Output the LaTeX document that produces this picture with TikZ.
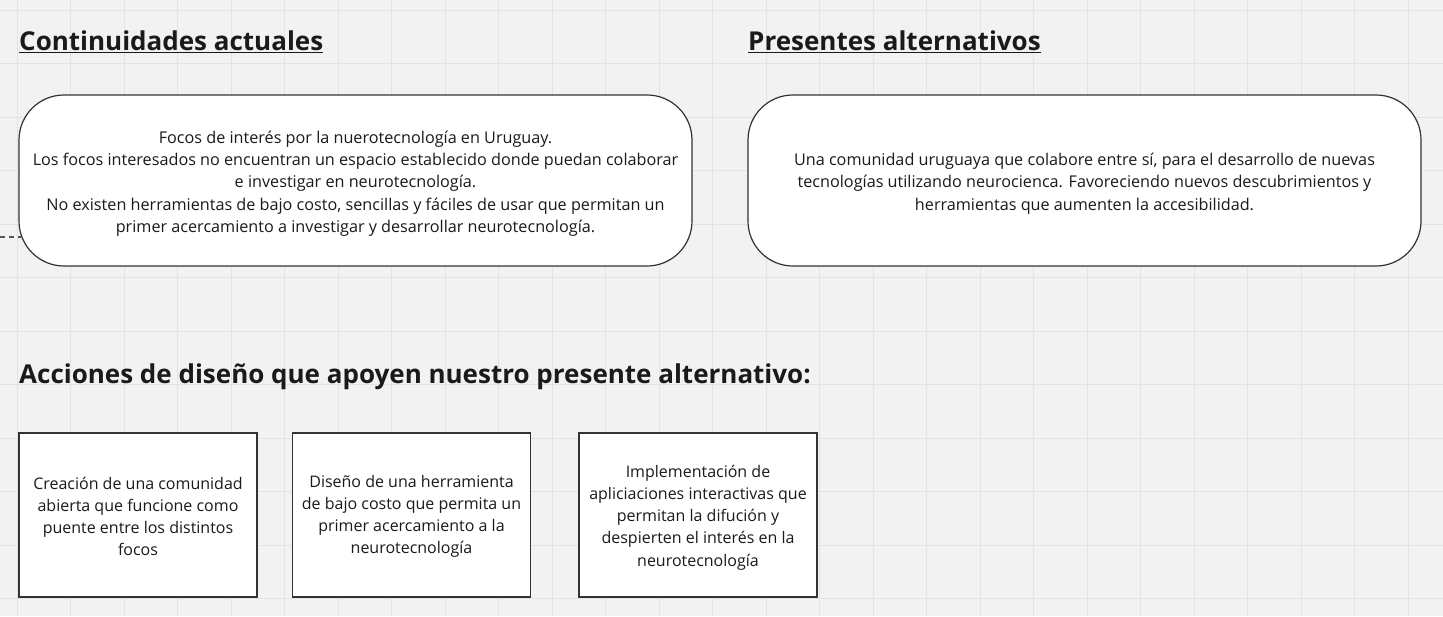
\documentclass[tikz,border=0pt]{standalone}
\usepackage{fontspec}
\setmainfont{Open Sans}
\definecolor{bgc}{HTML}{F2F2F2}
\definecolor{gridc}{HTML}{E3E3E3}
\definecolor{edgec}{HTML}{333333}
\definecolor{txtc}{HTML}{1A1A1A}
\definecolor{dashc}{HTML}{555555}
\begin{document}
\begin{tikzpicture}[x=1pt,y=-1pt,
  heading/.style={anchor=west,inner sep=0pt,font=\fontsize{26}{30}\selectfont\bfseries,text=txtc},
  roundbox/.style={draw=edgec,line width=1.2pt,fill=white,rounded corners=45pt,minimum width=673pt,minimum height=171pt,inner sep=0pt},
  roundtext/.style={inner sep=0pt,align=center,font=\fontsize{16.2}{22.3}\selectfont,text=txtc},
  actionbox/.style={draw=edgec,line width=1.2pt,fill=white,minimum width=238pt,minimum height=164pt,inner sep=0pt},
  actiontext/.style={inner sep=0pt,align=center,font=\fontsize{16}{22.2}\selectfont,text=txtc},
  link/.style={draw=dashc,line width=1.3pt,dash pattern=on 5pt off 4pt}]
\useasboundingbox (0,0) rectangle (1443,616);
\fill[bgc] (0,0) rectangle (1443,616);
\foreach \i in {0,...,26} {\draw[gridc,line width=1pt] (17+53.5*\i,0) -- (17+53.5*\i,616);}
\foreach \j in {0,...,11} {\draw[gridc,line width=1pt] (0,10+53.5*\j) -- (1443,10+53.5*\j);}

\node[heading] (h1) at (19,42) {\underline{Continuidades actuales}};
\node[heading] (h2) at (748,42) {\underline{Presentes alternativos}};
\node[heading] (h3) at (19,377) {Acciones de diseño que apoyen nuestro presente alternativo:};

\node[roundbox] (c1) at (355.5,180.5) {};
\node[roundtext] (c1t) at ([yshift=-3pt]c1.center) {Focos de interés por la nuerotecnología en Uruguay.\\
Los focos interesados no encuentran un espacio establecido donde puedan colaborar\\
e investigar en neurotecnología.\\
No existen herramientas de bajo costo, sencillas y fáciles de usar que permitan un\\
primer acercamiento a investigar y desarrollar neurotecnología.};
\node[roundbox] (p1) at (1084.5,180.5) {};
\node[roundtext] (p1t) at ([yshift=-3pt]p1.center) {Una comunidad uruguaya que colabore entre sí, para el desarrollo de nuevas\\
tecnologías utilizando neurocienca. Favoreciendo nuevos descubrimientos y\\
herramientas que aumenten la accesibilidad.};

\coordinate (lend) at (0,237);
\draw[link] (lend) -- ([xshift=3pt]c1.west |- lend);

\node[actionbox] (a1) at (138,515) {};
\node[actiontext] (a1t) at ([yshift=-1.5pt]a1.center) {Creación de una comunidad\\abierta que funcione como\\puente entre los distintos\\focos};
\node[actionbox] (a2) at (411.5,515) {};
\node[actiontext] (a2t) at ([yshift=-1.5pt]a2.center) {Diseño de una herramienta\\de bajo costo que permita un\\primer acercamiento a la\\neurotecnología};
\node[actionbox] (a3) at (698,515) {};
\node[actiontext] (a3t) at ([yshift=-2.5pt]a3.center) {Implementación de\\apliciaciones interactivas que\\permitan la difución y\\despierten el interés en la\\neurotecnología};
\end{tikzpicture}
\end{document}
